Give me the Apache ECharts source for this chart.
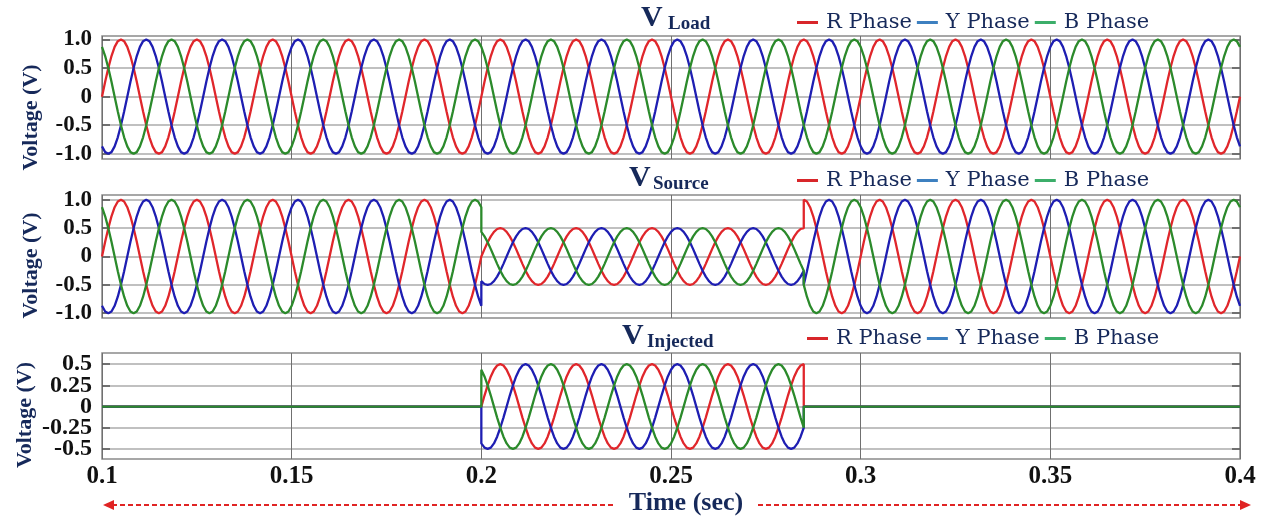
<!DOCTYPE html>
<html>
<head>
<meta charset="utf-8">
<script src="https://cdn.jsdelivr.net/npm/echarts@6/dist/echarts.min.js"></script>
<style>
html,body{margin:0;padding:0;background:#fff;}
#chart{width:1269px;height:517px;}
</style>
</head>
<body>
<div id="chart"></div>
<script>
// ---- data ----
const timeStart = 0.1;
const timeEnd = 0.4;
const period = 0.02;               // 15 cycles between 0.1 s and 0.4 s
const cycleShape = [0, 0.26, 0.5, 0.71, 0.87, 0.97, 1, 0.97, 0.87, 0.71, 0.5, 0.26,
                    0, -0.26, -0.5, -0.71, -0.87, -0.97, -1, -0.97, -0.87, -0.71, -0.5, -0.26];
const phaseNames = ['R Phase', 'Y Phase', 'B Phase'];
const phaseOffsets = [0, -8, 8];   // samples of cycleShape (0°, -120°, +120°)
const phaseColors = ['#e0262b', '#1e1eb2', '#2b8a2b'];
const legendColors = ['#d8262a', '#3d80c0', '#3cae6a'];

const loadAmpFrom = [0.1];
const loadAmpTo = [0.4];
const loadAmp = [1];
const sourceAmpFrom = [0.1, 0.2, 0.285];
const sourceAmpTo = [0.2, 0.285, 0.4];
const sourceAmp = [1, 0.5, 1];
const injectedAmpFrom = [0.1, 0.2, 0.285];
const injectedAmpTo = [0.2, 0.285, 0.4];
const injectedAmp = [0, 0.5, 0];

const xTicks = [0.1, 0.15, 0.2, 0.25, 0.3, 0.35, 0.4];
const volt1Ticks = [-1, -0.5, 0, 0.5, 1];
const volt1Labels = ['-1.0', '-0.5', '0', '0.5', '1.0'];
const volt3Ticks = [-0.5, -0.25, 0, 0.25, 0.5];
const volt3Labels = ['-0.5', '-0.25', '0', '0.25', '0.5'];
const panelTitles = ['Load', 'Source', 'Injected'];

// ---- build series from read values ----
const n = cycleShape.length;
const dt = period / n;
function build(froms, tos, amps, offset) {
  const pts = [];
  for (let s = 0; s < amps.length; s++) {
    const i0 = Math.round((froms[s] - timeStart) / dt);
    const i1 = Math.round((tos[s] - timeStart) / dt);
    for (let i = i0; i <= i1; i++) {
      const k = ((i + offset) % n + n) % n;
      pts.push([timeStart + i * dt, amps[s] * cycleShape[k]]);
    }
  }
  return pts;
}

const navy = '#16295a';
const serifBold = {fontFamily: 'Liberation Serif', fontWeight: 'bold'};
const grids = [
  {left: 102, right: 29, top: 36, height: 123},
  {left: 102, right: 29, top: 195, height: 123},
  {left: 102, right: 29, top: 353, height: 112}
];
const yRanges = [[-1.09, 1.06], [-1.085, 1.085], [-0.62, 0.632]];
const yTickSets = [volt1Ticks, volt1Ticks, volt3Ticks];
const yLabelSets = [volt1Labels, volt1Labels, volt3Labels];
const ampSets = [
  [loadAmpFrom, loadAmpTo, loadAmp],
  [sourceAmpFrom, sourceAmpTo, sourceAmp],
  [injectedAmpFrom, injectedAmpTo, injectedAmp]
];

const xAxes = [], yAxes = [], series = [], legends = [], titles = [];
const legendLefts = [797, 797, 807];
const legendTops = [12, 170, 328];
const titleVLeft = [641, 629, 622];
const titleVTop = [3, 163, 321];
const titleSubLeft = [668, 653, 647];
const titleSubTop = [15, 175, 333];
const yNamePad = [[0, 40, 0, 0], [0, 18, 0, 0], [0, 18, 0, 0]];
const yNameGap = [60, 60, 66];
const yLabelSize = [23, 23, 24];

function labelFmt(ticks, labels) {
  return v => { const i = ticks.findIndex(t => Math.abs(t - v) < 1e-6); return i >= 0 ? labels[i] : ''; };
}

for (let p = 0; p < 3; p++) {
  grids[p].show = true;
  grids[p].borderColor = '#8a8a8a';
  grids[p].borderWidth = 1.5;
  xAxes.push({
    type: 'value', gridIndex: p, min: timeStart, max: timeEnd, interval: 0.05,
    axisLine: {show: false}, axisTick: {show: false},
    axisLabel: {show: p === 2, margin: 5, fontSize: 25, color: '#111', ...serifBold, hideOverlap: false,
      formatter: v => { const i = xTicks.findIndex(t => Math.abs(t - v) < 1e-6); return i >= 0 ? String(xTicks[i]) : ''; }},
    splitLine: {show: true, lineStyle: {color: '#707070', width: 1}},
    name: p === 2 ? 'Time (sec)' : '', nameLocation: 'middle', nameGap: 26,
    nameTextStyle: {fontSize: 26, color: navy, ...serifBold, padding: [0, 0, 0, 30]}
  });
  const ticks = yTickSets[p], labels = yLabelSets[p];
  // alternate labels split over two left axes so none is dropped
  const evenTicks = ticks.filter((t, i) => i % 2 === 0);
  const oddTicks = ticks.filter((t, i) => i % 2 === 1);
  const mainIndex = yAxes.length;
  yAxes.push({
    type: 'value', gridIndex: p, min: yRanges[p][0], max: yRanges[p][1],
    axisLine: {show: false},
    axisTick: {show: true, inside: true, length: 8, customValues: ticks, lineStyle: {color: '#555', width: 1.5}},
    axisLabel: {customValues: evenTicks, margin: 10, fontSize: yLabelSize[p], color: '#111', ...serifBold,
      hideOverlap: false, formatter: labelFmt(ticks, labels)},
    splitLine: {show: true, lineStyle: {color: '#ababab', width: 1.5}},
    name: 'Voltage (V)', nameLocation: 'middle', nameRotate: 90, nameGap: yNameGap[p],
    nameTextStyle: {fontSize: 22, color: navy, ...serifBold, padding: yNamePad[p]}
  });
  yAxes.push({
    type: 'value', gridIndex: p, min: yRanges[p][0], max: yRanges[p][1], position: 'left',
    axisLine: {show: false}, axisTick: {show: false}, splitLine: {show: false},
    axisLabel: {customValues: oddTicks, margin: 10, fontSize: yLabelSize[p], color: '#111', ...serifBold,
      hideOverlap: false, formatter: labelFmt(ticks, labels)}
  });
  yAxes.push({
    type: 'value', gridIndex: p, min: yRanges[p][0], max: yRanges[p][1], position: 'right',
    axisLine: {show: false},
    axisTick: {show: true, inside: true, length: 8, customValues: ticks, lineStyle: {color: '#555', width: 1.5}},
    axisLabel: {show: false}, splitLine: {show: false}
  });
  const [fr, to, am] = ampSets[p];
  for (let k = 0; k < 3; k++) {
    series.push({
      type: 'line', name: phaseNames[k], xAxisIndex: p, yAxisIndex: mainIndex,
      data: build(fr, to, am, phaseOffsets[k]),
      showSymbol: false, symbol: 'none', sampling: 'none',
      lineStyle: {color: phaseColors[k], width: 2.3}, itemStyle: {color: phaseColors[k]},
      z: 2 + k, animation: false
    });
  }
  legends.push({
    left: legendLefts[p], top: legendTops[p], padding: 0, itemWidth: 21, itemHeight: 3, itemGap: 5,
    icon: 'rect', selectedMode: false,
    textStyle: {fontFamily: 'DejaVu Serif', fontSize: 21, color: navy, padding: [0, 0, 0, 3]},
    data: phaseNames.map((nm, k) => ({name: nm, itemStyle: {color: legendColors[k]}}))
  });
  titles.push({text: 'V', left: titleVLeft[p], top: titleVTop[p], padding: 0,
    textStyle: {fontSize: 30, color: navy, ...serifBold}});
  titles.push({text: panelTitles[p], left: titleSubLeft[p], top: titleSubTop[p], padding: 0,
    textStyle: {fontSize: 19, color: navy, ...serifBold}});
}

const chart = echarts.init(document.getElementById('chart'), null, {renderer: 'canvas'});
chart.setOption({
  animation: false,
  backgroundColor: '#fff',
  title: titles,
  legend: legends,
  grid: grids,
  xAxis: xAxes,
  yAxis: yAxes,
  series: series,
  graphic: [
    {type: 'line', shape: {x1: 613, y1: 505, x2: 110, y2: 505}, style: {stroke: '#e02424', lineWidth: 2, lineDash: [5, 3]}},
    {type: 'polygon', shape: {points: [[103, 505], [114, 500], [114, 510]]}, style: {fill: '#e02424'}},
    {type: 'line', shape: {x1: 758, y1: 505, x2: 1243, y2: 505}, style: {stroke: '#e02424', lineWidth: 2, lineDash: [5, 3]}},
    {type: 'polygon', shape: {points: [[1251, 505], [1240, 500], [1240, 510]]}, style: {fill: '#e02424'}}
  ]
});
</script>
</body>
</html>
